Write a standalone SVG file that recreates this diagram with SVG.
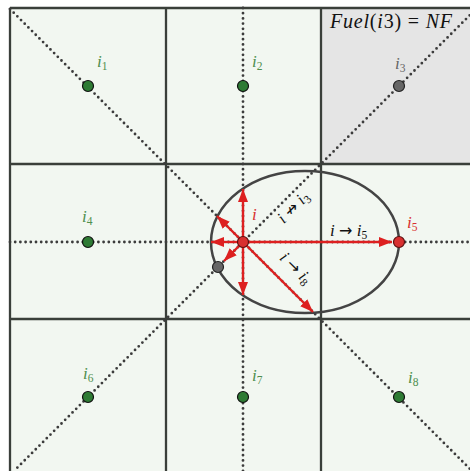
<svg xmlns="http://www.w3.org/2000/svg" width="470" height="471" viewBox="0 0 470 471">
<style>
.grid{stroke:#3a3f3a;stroke-width:2.3;fill:none}
.dot{stroke:#3c3c3c;stroke-width:2.8;stroke-dasharray:0 5.2;stroke-linecap:round;fill:none}
.arr{stroke:#dd2020;stroke-width:2.4;fill:none;marker-end:url(#ah)}
.m{font-family:"Liberation Serif","DejaVu Serif",serif;font-style:italic;font-size:17px}
.up{font-style:normal}
.ar{font-family:"DejaVu Sans",sans-serif;font-style:normal;font-size:16px}
.sub{font-size:11.5px;font-style:normal}
.g{fill:#4f8f4f}
.r{fill:#d83030}
.k{fill:#111}
.gr{fill:#666}
.ng{fill:#2e7b34;stroke:#111;stroke-width:1.2}
.nr{fill:#d83030;stroke:#5a1010;stroke-width:1.2}
.nk{fill:#666;stroke:#222;stroke-width:1.2}
</style>
<defs>
<marker id="ah" markerUnits="userSpaceOnUse" markerWidth="14" markerHeight="12" refX="13" refY="6" orient="auto">
<path d="M0,1 L13,6 L0,11 Z" fill="#dd2020"/>
</marker>
</defs>
<rect x="0" y="0" width="470" height="471" fill="#ffffff"/>
<rect x="10" y="8" width="470" height="470" fill="#f2f7f1"/>
<rect x="321" y="8" width="160" height="156" fill="#e5e5e5"/>
<g id="grid">
<path class="grid" d="M10,8 H480 M10,164 H480 M10,319 H480 M10,8 V480 M166,8 V480 M321,8 V480"/>
</g>
<g id="connectors">
<path class="dot" d="M10,9 L472,471"/>
<path class="dot" d="M477,8 L14,471"/>
<path class="dot" d="M10,242 H470"/>
<path class="dot" d="M243,8 V471"/>
<ellipse cx="305" cy="242" rx="94" ry="71" fill="none" stroke="#444" stroke-width="2.5"/>
<path class="arr" d="M243,242 L243,189"/>
<path class="arr" d="M243,242 L217,216"/>
<path class="arr" d="M243,242 L211,242"/>
<path class="arr" d="M243,242 L224,261"/>
<path class="arr" d="M243,242 L243,295"/>
<path class="arr" d="M243,242 L392,242"/>
<path class="arr" d="M243,242 L313,312"/>
<text class="m k" transform="translate(297,211) rotate(-45)" text-anchor="middle">i <tspan class="ar">↛</tspan> i<tspan class="sub" dy="3">3</tspan></text>
<text class="m k" transform="translate(292,272) rotate(45)" text-anchor="middle">i <tspan class="ar">→</tspan> i<tspan class="sub" dy="3">8</tspan></text>
<text class="m k" x="330" y="236">i <tspan class="ar">→</tspan> i<tspan class="sub" dy="3">5</tspan></text>
</g>
<text class="m k" x="330" y="28" style="font-size:20px;letter-spacing:0.8px">Fuel<tspan class="up">(</tspan>i<tspan class="up">3) = </tspan>NF</text>
<g id="i1"><circle class="ng" cx="88" cy="86" r="5.5"/><text class="m g" x="97" y="67">i<tspan class="sub" dy="3">1</tspan></text></g>
<g id="i2"><circle class="ng" cx="243" cy="86" r="5.5"/><text class="m g" x="252" y="67">i<tspan class="sub" dy="3">2</tspan></text></g>
<g id="i3"><circle class="nk" cx="399" cy="86" r="5.5"/><text class="m gr" x="395" y="69">i<tspan class="sub" dy="3">3</tspan></text></g>
<g id="i4"><circle class="ng" cx="88" cy="242" r="5.5"/><text class="m g" x="82" y="222">i<tspan class="sub" dy="3">4</tspan></text></g>
<g id="i"><circle class="nr" cx="243" cy="242" r="5.5"/><text class="m r" x="252" y="220">i</text></g>
<g id="i5"><circle class="nr" cx="399" cy="242" r="5.5"/><text class="m r" x="407" y="228">i<tspan class="sub" dy="3">5</tspan></text></g>
<g id="inode"><circle class="nk" cx="218" cy="267" r="5.5"/></g>
<g id="i6"><circle class="ng" cx="88" cy="397" r="5.5"/><text class="m g" x="83" y="379">i<tspan class="sub" dy="3">6</tspan></text></g>
<g id="i7"><circle class="ng" cx="243" cy="397" r="5.5"/><text class="m g" x="252" y="381">i<tspan class="sub" dy="3">7</tspan></text></g>
<g id="i8"><circle class="ng" cx="399" cy="397" r="5.5"/><text class="m g" x="408" y="383">i<tspan class="sub" dy="3">8</tspan></text></g>
</svg>
